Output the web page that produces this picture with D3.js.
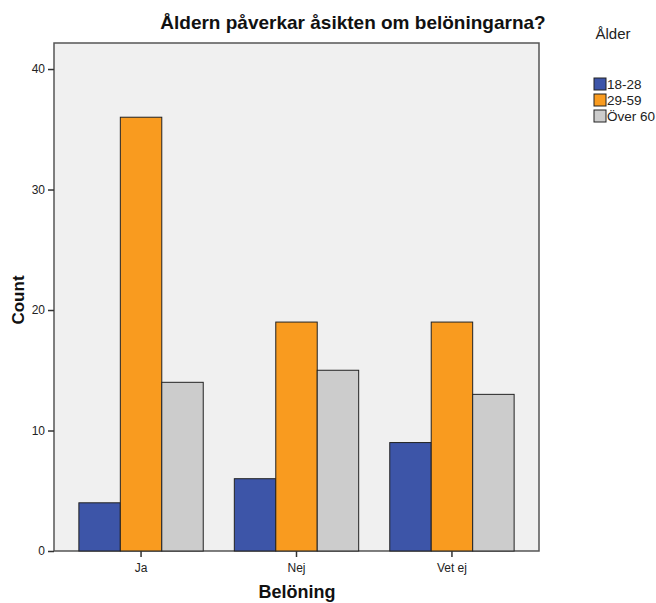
<!DOCTYPE html>
<html><head><meta charset="utf-8">
<script src="https://cdn.jsdelivr.net/npm/d3@7"></script>
<style>body{margin:0;background:#fff}svg{display:block}text{font-family:Arial,"Liberation Sans",sans-serif}</style>
</head><body>
<svg id="c" width="656" height="603"></svg>
<script>
const categories = ["Ja","Nej","Vet ej"];
const series = ["18-28","29-59","Över 60"];
const colors = ["#3d55a8","#f99b1f","#cccccc"];
const v1828 = [4,6,9];
const v2959 = [36,19,19];
const vOver60 = [14,15,13];
const yTicks = [0,10,20,30,40];
const values = [v1828,v2959,vOver60];

const svg = d3.select("#c");
const L=54,R=539,T=43,B=551;
const x = d3.scaleBand().domain(categories).range([L,R]).paddingInner(0.2).paddingOuter(0.16);
const xs = d3.scaleBand().domain(series).range([0,x.bandwidth()]);
const y = d3.scaleLinear().domain([0,42.16]).range([B,T]);

svg.append("rect").attr("x",L).attr("y",T).attr("width",R-L).attr("height",B-T)
  .attr("fill","#f0f0f0").attr("stroke","#555").attr("stroke-width",1.5);

const g = svg.append("g");
categories.forEach((c,i)=>{
  series.forEach((s,j)=>{
    g.append("rect").attr("x",x(c)+xs(s)).attr("y",y(values[j][i]))
     .attr("width",xs.bandwidth()).attr("height",y(0)-y(values[j][i]))
     .attr("fill",colors[j]).attr("stroke","#222").attr("stroke-width",1);
  });
});

const ya = svg.append("g").attr("transform",`translate(${L},0)`)
  .call(d3.axisLeft(y).tickValues(yTicks).tickSize(6).tickSizeOuter(0).tickFormat(d3.format("d")));
ya.select(".domain").remove();
ya.selectAll("line").attr("stroke","#333").attr("stroke-width",1.5);
ya.selectAll("text").attr("font-size",12).attr("fill","#222").attr("font-family","Arial, Liberation Sans, sans-serif");

const xa = svg.append("g").attr("transform",`translate(0,${B})`)
  .call(d3.axisBottom(x).tickSize(6).tickSizeOuter(0));
xa.select(".domain").remove();
xa.selectAll("line").attr("stroke","#333").attr("stroke-width",1.5);
xa.selectAll("text").attr("font-size",12).attr("fill","#222").attr("dy","1.0em").attr("font-family","Arial, Liberation Sans, sans-serif");

svg.append("text").attr("x",353).attr("y",29).attr("text-anchor","middle")
  .attr("font-size",19).attr("font-weight","bold").attr("fill","#111").text("Åldern påverkar åsikten om belöningarna?");
svg.append("text").attr("transform","translate(24,300) rotate(-90)").attr("text-anchor","middle")
  .attr("font-size",17).attr("font-weight","bold").attr("fill","#111").text("Count");
svg.append("text").attr("x",297).attr("y",598).attr("text-anchor","middle")
  .attr("font-size",18).attr("font-weight","bold").attr("fill","#111").text("Belöning");

svg.append("text").attr("x",613).attr("y",39).attr("text-anchor","middle")
  .attr("font-size",15).attr("fill","#222").text("Ålder");
series.forEach((s,j)=>{
  const yy = 84 + j*16;
  svg.append("rect").attr("x",594).attr("y",yy-6).attr("width",12).attr("height",12)
    .attr("fill",colors[j]).attr("stroke","#222").attr("stroke-width",1);
  svg.append("text").attr("x",607).attr("y",yy+5).attr("font-size",13.5).attr("fill","#222").text(s);
});
</script>
</body></html>
